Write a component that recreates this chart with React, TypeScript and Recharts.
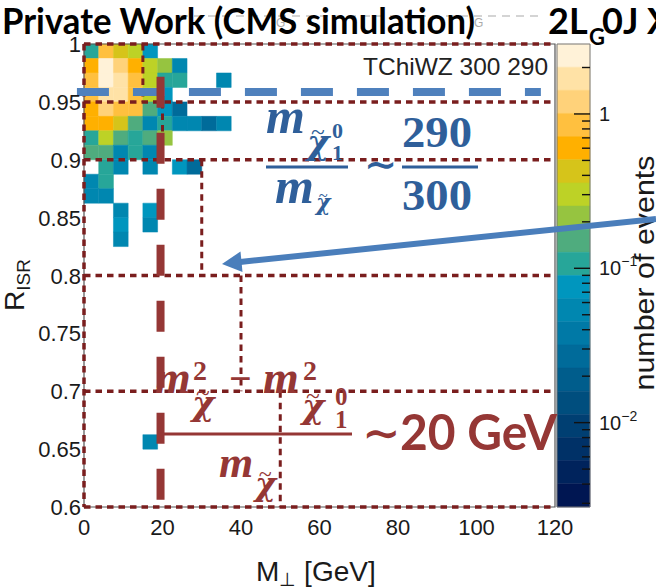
import React from "react";
import { ComposedChart, XAxis, YAxis, ReferenceArea, ReferenceLine, Scatter } from "recharts";

const W = 656;
const H = 587;

const mTicks = [0, 20, 40, 60, 80, 100, 120];
const rTicks = [0.6, 0.65, 0.7, 0.75, 0.8, 0.85, 0.9, 0.95, 1];

// histogram binning
const mBin = 3.75;
const rBin = 0.0125;

// lower edges of the filled bins and their content (number of events)
const cellM = [
  0, 3.75, 7.5, 11.25, 15,
  0, 3.75, 7.5, 11.25, 15, 18.75, 22.5,
  0, 3.75, 7.5, 11.25, 15, 18.75, 22.5, 33.75,
  0, 3.75, 7.5, 11.25, 15, 18.75,
  0, 3.75, 7.5, 11.25, 15, 18.75, 22.5,
  0, 3.75, 7.5, 11.25, 15, 18.75, 22.5, 26.25, 30, 33.75,
  0, 3.75, 7.5, 11.25, 15, 18.75,
  0, 3.75, 7.5, 11.25, 15,
  3.75, 7.5, 15, 22.5, 26.25,
  0, 3.75,
  0, 3.75,
  7.5, 15,
  7.5, 15,
  7.5,
  15,
];
const cellR = [
  0.9875, 0.9875, 0.9875, 0.9875, 0.9875,
  0.975, 0.975, 0.975, 0.975, 0.975, 0.975, 0.975,
  0.9625, 0.9625, 0.9625, 0.9625, 0.9625, 0.9625, 0.9625, 0.9625,
  0.95, 0.95, 0.95, 0.95, 0.95, 0.95,
  0.9375, 0.9375, 0.9375, 0.9375, 0.9375, 0.9375, 0.9375,
  0.925, 0.925, 0.925, 0.925, 0.925, 0.925, 0.925, 0.925, 0.925, 0.925,
  0.9125, 0.9125, 0.9125, 0.9125, 0.9125, 0.9125,
  0.9, 0.9, 0.9, 0.9, 0.9,
  0.8875, 0.8875, 0.8875, 0.8875, 0.8875,
  0.875, 0.875,
  0.8625, 0.8625,
  0.85, 0.85,
  0.8375, 0.8375,
  0.825,
  0.65,
];
const cellN = [
  0.11, 0.85, 0.42, 0.3, 0.075,
  0.6, 2.4, 1.2, 0.6, 0.3, 0.21, 0.053,
  0.85, 2.2, 1.7, 0.85, 0.3, 0.11, 0.11, 0.053,
  0.85, 1.7, 1.7, 0.85, 0.3, 0.075,
  0.6, 1.2, 0.85, 0.85, 0.15, 0.075, 0.027,
  0.6, 0.6, 0.42, 0.15, 0.053, 0.11, 0.053, 0.053, 0.027, 0.053,
  0.11, 0.3, 0.15, 0.11, 0.15, 0.21,
  0.15, 0.15, 0.053, 0.11, 0.053,
  0.11, 0.053, 0.053, 0.075, 0.027,
  0.053, 0.11,
  0.053, 0.053,
  0.053, 0.075,
  0.075, 0.053,
  0.053,
  0.053,
];

// colour axis
const zMax = 2.84;
const zMin = 0.00284;
const palette = [
  "#FFF2D8", "#FFE2A6", "#FFD27A", "#FFC03F", "#FFB000",
  "#D6C41A", "#BDD226", "#96C440", "#4FAC7E", "#27A699",
  "#0096BE", "#0087B0", "#0079A6", "#006B9A", "#005D8C",
  "#004E7E", "#003F72", "#003167", "#00235C", "#001652",
];
const zTicks = [
  2, 1, 0.9, 0.8, 0.7, 0.6, 0.5, 0.4, 0.3, 0.2,
  0.1, 0.09, 0.08, 0.07, 0.06, 0.05, 0.04, 0.03, 0.02,
  0.01, 0.009, 0.008, 0.007, 0.006, 0.005, 0.004, 0.003,
];
const zMajor: Record<string, string> = { "1": "", "0.1": "\u22121", "0.01": "\u22122" };

// signal-region boxes
const rCuts = [1, 0.95, 0.9, 0.8, 0.7, 0.6];
const mCuts = [15, 20, 30, 40, 50];
const mCutLow = [0.95, 0.9, 0.8, 0.7, 0.6];
const mCutHigh = [1, 0.95, 0.9, 0.8, 0.7];

const SANS = "'Liberation Sans', Arial, Helvetica, sans-serif";
const CAL = "Lato, 'Open Sans', sans-serif";
const SERIF = "'Liberation Serif', 'DejaVu Serif', serif";
const GREEK = "'DejaVu Serif', serif";
const MAROON = "#7A1E1E";
const RED = "#953735";
const BLUE = "#2F5F9A";

const colorOf = (n: number) => {
  const f = Math.log10(zMax / n) / Math.log10(zMax / zMin);
  const i = Math.min(palette.length - 1, Math.max(0, Math.floor(f * palette.length)));
  return palette[i];
};

const cellData = cellM.map((m, i) => ({ m: m + mBin / 2, r: cellR[i] + rBin / 2, n: cellN[i] }));

const zBands = palette.map((c, i) => ({
  top: zMax * Math.pow(zMin / zMax, i / palette.length),
  bottom: zMax * Math.pow(zMin / zMax, (i + 1) / palette.length),
  color: c,
}));
const zData = zTicks.map((z) => ({ x: 0.5, z }));

const MTick = (p: any) => (
  <text x={p.x} y={p.y + 20} textAnchor="middle" fontSize={22} fontFamily={SANS} fill="#1a1a1a">
    {p.payload.value}
  </text>
);

const RTick = (p: any) => (
  <text x={p.x} y={p.y + 8} textAnchor="end" fontSize={22} fontFamily={SANS} fill="#1a1a1a">
    {String(p.payload.value)}
  </text>
);

const ZTick = (p: any) => {
  const v = p.payload.value;
  const key = String(v);
  const major = key in zMajor;
  return (
    <g>
      <line x1={p.x - (major ? 16 : 8)} x2={p.x} y1={p.y} y2={p.y} stroke="#111" strokeWidth={1.4} />
      {major && (
        <text x={p.x + 9} y={p.y + 7} fontSize={20} fontFamily={SANS} fill="#1a1a1a">
          {v === 1 ? "1" : "10"}
          {zMajor[key] && (
            <tspan fontSize={14} dy={-9}>
              {zMajor[key]}
            </tspan>
          )}
        </text>
      )}
    </g>
  );
};

// chi with a tilde on top, as two pieces of text
const Chi = ({ x, y, size }: { x: number; y: number; size: number }) => (
  <>
    <text x={x} y={y} fontSize={size} fontStyle="italic" fontFamily={GREEK}>χ</text>
    <text x={x + size * 0.12} y={y - size * 0.42} fontSize={size * 0.75} fontFamily={SERIF} fontWeight="normal">~</text>
  </>
);

export default function App() {
  return (
    <div style={{ position: "absolute", left: 0, top: 0, width: W, height: H, background: "#fff" }}>
      <div style={{ position: "absolute", left: 0, top: 0 }}>
        <ComposedChart width={W} height={H} data={cellData} margin={{ top: 44, right: 101, bottom: 50, left: 44 }}>
          <XAxis
            type="number"
            dataKey="m"
            domain={[0, 120]}
            ticks={mTicks}
            interval={0}
            height={30}
            axisLine={false}
            tickLine={false}
            tickSize={6}
            tickMargin={2}
            tick={<MTick />}
            allowDataOverflow
          />
          <YAxis
            type="number"
            dataKey="r"
            domain={[0.6, 1]}
            ticks={rTicks}
            interval={0}
            width={40}
            axisLine={false}
            tickLine={false}
            tickSize={3}
            tickMargin={0}
            tick={<RTick />}
            allowDataOverflow
          />
          {cellM.map((m, i) => (
            <ReferenceArea
              key={`c${i}`}
              x1={m}
              x2={m + mBin}
              y1={cellR[i]}
              y2={cellR[i] + rBin}
              fill={colorOf(cellN[i])}
              fillOpacity={1}
              stroke={colorOf(cellN[i])}
              strokeWidth={0.5}
              ifOverflow="visible"
            />
          ))}
          <Scatter dataKey="r" fill="none" shape={() => <g />} isAnimationActive={false} />
          <ReferenceArea x1={0} x2={120} y1={0.6} y2={1} fill="none" stroke="#555" strokeWidth={1.2} ifOverflow="visible" />
          {rCuts.map((r) => (
            <ReferenceLine
              key={`h${r}`}
              segment={[{ x: 0, y: r }, { x: 120, y: r }]}
              stroke={MAROON}
              strokeWidth={3.5}
              strokeDasharray="6.5 5"
              ifOverflow="visible"
            />
          ))}
          <ReferenceLine
            segment={[{ x: 0, y: 1 }, { x: 0, y: 0.6 }]}
            stroke={MAROON}
            strokeWidth={3.5}
            strokeDasharray="6.5 5"
            ifOverflow="visible"
          />
          {mCuts.map((m, i) => (
            <ReferenceLine
              key={`v${m}`}
              segment={[{ x: m, y: mCutHigh[i] }, { x: m, y: mCutLow[i] }]}
              stroke={MAROON}
              strokeWidth={3}
              strokeDasharray="6.5 5"
              ifOverflow="visible"
            />
          ))}
          <ReferenceLine
            segment={[{ x: -1.8, y: 0.9585 }, { x: 116.4, y: 0.9585 }]}
            stroke="#4F81BD"
            strokeWidth={8}
            strokeDasharray="32 24"
            ifOverflow="visible"
          />
          <ReferenceLine
            segment={[{ x: 19.5, y: 0.9717 }, { x: 19.5, y: 0.606 }]}
            stroke={RED}
            strokeWidth={8}
            strokeDasharray="31 25"
            ifOverflow="visible"
          />
        </ComposedChart>
      </div>

      <div style={{ position: "absolute", left: 0, top: 0 }}>
        <ComposedChart width={W} height={H} data={zData} margin={{ top: 44, right: 6, bottom: 80, left: 557 }}>
          <XAxis type="number" dataKey="x" domain={[0, 1]} hide height={0} />
          <YAxis
            type="number"
            dataKey="z"
            scale="log"
            domain={[zMin, zMax]}
            allowDataOverflow
            orientation="right"
            width={60}
            ticks={zTicks}
            interval={0}
            axisLine={false}
            tickLine={false}
            tickSize={0}
            tickMargin={0}
            tick={<ZTick />}
          />
          {zBands.map((b, i) => (
            <ReferenceArea
              key={`z${i}`}
              x1={0}
              x2={1}
              y1={b.bottom}
              y2={b.top}
              fill={b.color}
              fillOpacity={1}
              stroke={b.color}
              strokeWidth={0.5}
              ifOverflow="visible"
            />
          ))}
          <Scatter dataKey="z" fill="none" shape={() => <g />} isAnimationActive={false} />
          <ReferenceArea x1={0} x2={1} y1={zMin} y2={zMax} fill="none" stroke="#777" strokeWidth={1} ifOverflow="visible" />
        </ComposedChart>
      </div>

      <svg width={W} height={H} style={{ position: "absolute", left: 0, top: 0, pointerEvents: "none" }}>
        {/* remnants of the original ROOT title */}
        <line x1={180} x2={540} y1={16} y2={16} stroke="#aaa" strokeWidth={1.2} strokeDasharray="8 6" />
        <text x={276} y={27} fontSize={12} fontFamily={SANS} fill="#aaa">G</text>
        <text x={474} y={27} fontSize={12} fontFamily={SANS} fill="#aaa">G</text>

        <text x={2} y={34} fontSize={36} fontWeight="bold" fontFamily={CAL} fill="#000" textLength={473} lengthAdjust="spacingAndGlyphs">
          Private Work (CMS simulation)
        </text>
        <text x={548} y={34} fontSize={36} fontWeight="bold" fontFamily={CAL} fill="#000">2L</text>
        <text x={589} y={45} fontSize={22} fontWeight="bold" fontFamily={CAL} fill="#000">G</text>
        <text x={602} y={34} fontSize={36} fontWeight="bold" fontFamily={CAL} fill="#000">0J X</text>

        <text x={363} y={75} fontSize={24.5} fontFamily={SANS} fill="#222" textLength={185} lengthAdjust="spacingAndGlyphs">
          TChiWZ 300 290
        </text>

        {/* axis titles */}
        <text x={256} y={581} fontSize={28} fontFamily={SANS} fill="#1a1a1a">
          M<tspan fontSize={19} dy={5}>⊥</tspan>
          <tspan dy={-5}> [GeV]</tspan>
        </text>
        <text x={24} y={285} fontSize={28} fontFamily={SANS} fill="#1a1a1a" textAnchor="middle" transform="rotate(-90 24 285)">
          R<tspan fontSize={19} dy={6}>ISR</tspan>
        </text>
        <text x={654} y={273} fontSize={28} fontFamily={SANS} fill="#1a1a1a" textAnchor="middle" transform="rotate(-90 654 273)" textLength={235} lengthAdjust="spacingAndGlyphs">
          number of events
        </text>

        {/* mass-ratio annotation */}
        <g fill={BLUE} fontFamily={SERIF} fontWeight="bold">
          <text x={266} y={133} fontSize={50} fontStyle="italic">m</text>
          <Chi x={307} y={154} size={34} />
          <text x={332} y={138} fontSize={22}>0</text>
          <text x={332} y={160} fontSize={22}>1</text>
          <line x1={266} x2={348} y1={167} y2={167} stroke={BLUE} strokeWidth={3} />
          <text x={275} y={203} fontSize={50} fontStyle="italic">m</text>
          <Chi x={316} y={210} size={22} />
          <text x={364} y={178} fontSize={40}>∼</text>
          <text x={402} y={147} fontSize={44} textLength={70} lengthAdjust="spacingAndGlyphs">290</text>
          <line x1={402} x2={478} y1={167} y2={167} stroke={BLUE} strokeWidth={3} />
          <text x={402} y={210} fontSize={44} textLength={70} lengthAdjust="spacingAndGlyphs">300</text>
        </g>

        {/* mass-splitting annotation */}
        <g fill={RED} fontFamily={SERIF} fontWeight="bold">
          <text x={155} y={393} fontSize={46} fontStyle="italic">m</text>
          <text x={193} y={380} fontSize={28}>2</text>
          <Chi x={192} y={415} size={34} />
          <text x={229} y={392} fontSize={40}>−</text>
          <text x={263} y={393} fontSize={46} fontStyle="italic">m</text>
          <text x={303} y={380} fontSize={28}>2</text>
          <Chi x={302} y={418} size={34} />
          <text x={335} y={405} fontSize={25}>0</text>
          <text x={335} y={428} fontSize={25}>1</text>
          <line x1={160} x2={352} y1={434} y2={434} stroke={RED} strokeWidth={3} />
          <text x={219} y={477} fontSize={44} fontStyle="italic">m</text>
          <Chi x={255} y={495} size={32} />
          <text x={362} y={449} fontSize={46}>∼</text>
          <text x={400} y={450} fontSize={50} fontFamily={CAL} textLength={157} lengthAdjust="spacingAndGlyphs">
            20 GeV
          </text>
        </g>

        {/* arrow pointing at the box */}
        <line x1={656} y1={219} x2={240} y2={262} stroke="#4A7EBB" strokeWidth={6} />
        <polygon points="222,264 242.5,272 240.5,251.5" fill="#4A7EBB" />
      </svg>
    </div>
  );
}
